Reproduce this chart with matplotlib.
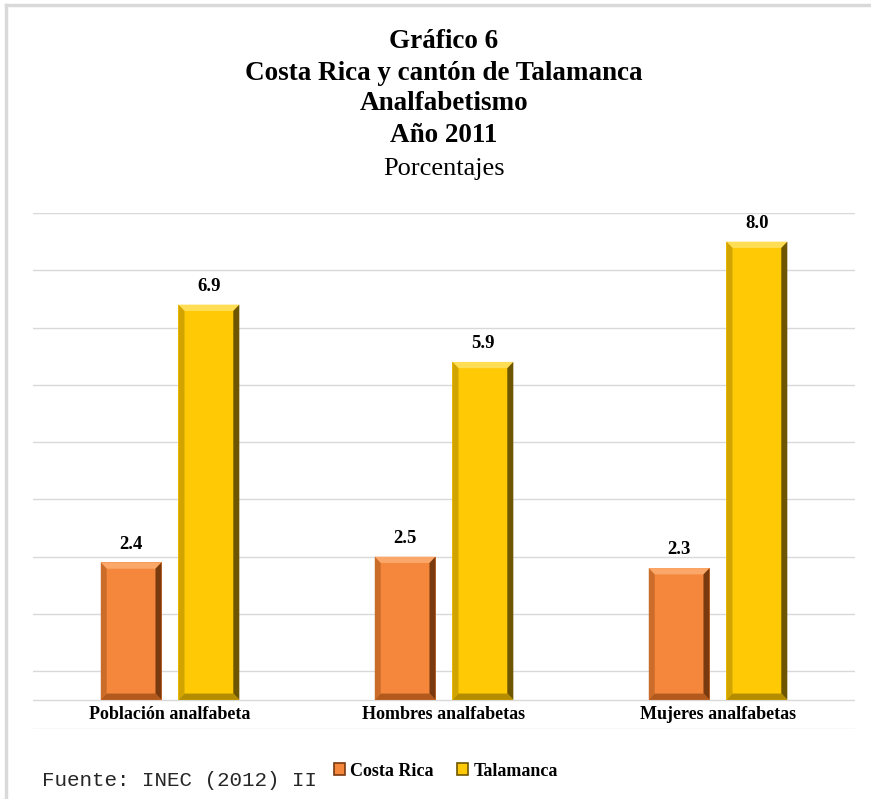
import matplotlib
matplotlib.use("Agg")
import matplotlib.pyplot as plt
from matplotlib.patches import Polygon, Rectangle
from matplotlib.lines import Line2D

categorias = ["Población analfabeta", "Hombres analfabetas", "Mujeres analfabetas"]
costa_rica = [2.4, 2.5, 2.3]
talamanca = [6.9, 5.9, 8.0]
series = ["Costa Rica", "Talamanca"]

titulo = ["Gráfico 6", "Costa Rica y cantón de Talamanca", "Analfabetismo", "Año 2011"]
subtitulo = "Porcentajes"
fuente = "Fuente: INEC (2012) II"

colores = {
    "Costa Rica": ("#F5873C", "#FBA769", "#7A3A10", "#B25A1E"),
    "Talamanca": ("#FFC905", "#FFDD55", "#6E5600", "#B38C00"),
}

plt.rcParams["font.family"] = ["Liberation Serif", "DejaVu Serif"]

fig = plt.figure(figsize=(8.71, 7.99), dpi=100)
ax = fig.add_axes([33 / 871, 1 - 728.5 / 799, 822 / 871, (728.5 - 213) / 799])

ancho = 0.222
desp = 0.142
x = range(len(categorias))


def bisel(ax, barras, tonos):
    cara, claro, oscuro, medio = tonos
    dx, dy = 0.022, 0.11
    for b in barras:
        x0, y0 = b.get_x(), b.get_y()
        x1, y1 = x0 + b.get_width(), y0 + b.get_height()
        # top, right, bottom, left bevel faces
        ax.add_patch(Polygon([(x0, y1), (x1, y1), (x1 - dx, y1 - dy), (x0 + dx, y1 - dy)],
                             closed=True, facecolor=claro, edgecolor="none", zorder=3))
        ax.add_patch(Polygon([(x1, y1), (x1, y0), (x1 - dx, y0 + dy), (x1 - dx, y1 - dy)],
                             closed=True, facecolor=oscuro, edgecolor="none", zorder=3))
        ax.add_patch(Polygon([(x0, y0), (x1, y0), (x1 - dx, y0 + dy), (x0 + dx, y0 + dy)],
                             closed=True, facecolor=medio, edgecolor="none", zorder=3))
        ax.add_patch(Polygon([(x0, y0), (x0, y1), (x0 + dx, y1 - dy), (x0 + dx, y0 + dy)],
                             closed=True, facecolor=medio, edgecolor="none", alpha=0.6, zorder=3))


b1 = ax.bar([i - desp for i in x], costa_rica, ancho, color=colores["Costa Rica"][0], zorder=2)
b2 = ax.bar([i + desp for i in x], talamanca, ancho, color=colores["Talamanca"][0], zorder=2)
bisel(ax, b1, colores["Costa Rica"])
bisel(ax, b2, colores["Talamanca"])

for barras, vals in ((b1, costa_rica), (b2, talamanca)):
    for b, v in zip(barras, vals):
        ax.annotate(f"{v:.1f}", (b.get_x() + b.get_width() / 2, v), xytext=(0, 7),
                    textcoords="offset points", ha="center", va="bottom",
                    fontsize=13.5, fontweight="bold")

ax.set_xlim(-0.5, 2.5)
ax.set_ylim(-0.5, 8.5)
for g in [k + 0.5 for k in range(-1, 9)] + [0]:
    ax.axhline(g, color="#D9D9D9", lw=1, zorder=1)

for i, c in enumerate(categorias):
    ax.text(i, -0.25, c, ha="center", va="center", fontsize=13, fontweight="bold")

ax.set_xticks([])
ax.set_yticks([])
for s in ax.spines.values():
    s.set_visible(False)

# titles
y_lin = [42, 73, 104, 135]
for t, yp in zip(titulo, y_lin):
    fig.text(444 / 871, 1 - yp / 799, t, ha="center", va="center", fontsize=19.5, fontweight="bold")
fig.text(444 / 871, 1 - 169 / 799, subtitulo, ha="center", va="center", fontsize=19)

# legend
handles = [Rectangle((0, 0), 1, 1, facecolor=colores[s][0], edgecolor=colores[s][2], lw=1.2) for s in series]
fig.legend(handles, series, loc="center", bbox_to_anchor=(446 / 871, 1 - 771 / 799), ncol=2,
           frameon=False, prop={"weight": "bold", "size": 13}, handlelength=0.6, handleheight=0.6,
           handletextpad=0.3, columnspacing=1.3)

fig.text(42 / 871, 1 - 781 / 799, fuente, ha="left", va="center", fontsize=15,
         family="Liberation Mono", color="#262626")

# frame lines
fig.add_artist(Line2D([6 / 871, 1], [1 - 5 / 799, 1 - 5 / 799], color="#D9D9D9", lw=2.5))
fig.add_artist(Line2D([6 / 871, 6 / 871], [0, 1 - 5 / 799], color="#D9D9D9", lw=2.5))

fig.savefig("out.png", dpi=100)
